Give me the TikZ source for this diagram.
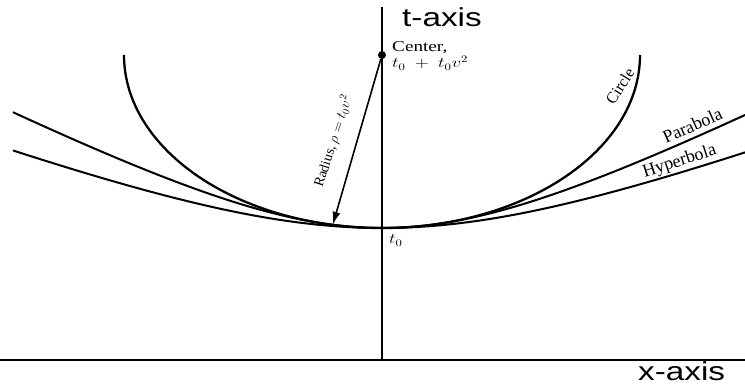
\documentclass[tikz,border=0pt]{standalone}
\usepackage{fontspec}
\setmainfont{Liberation Serif}
\newfontfamily\axisfont{Liberation Sans}
\usepackage{tikz}
\usetikzlibrary{arrows.meta}
\newcommand{\wide}[1]{\scalebox{1.28}[1]{#1}}

\begin{document}
\begin{tikzpicture}[
    x=1pt, y=1pt,
    axis/.style={line width=1.8pt},
    curve/.style={line width=2pt},
    axislabel/.style={font=\axisfont\fontsize{26}{30}\selectfont, inner sep=0pt},
    lbl/.style={font=\fontsize{14}{16}\selectfont, inner sep=0pt},
    curvelabel/.style={font=\fontsize{18}{20}\selectfont, inner sep=0pt},
    dot/.style={circle, fill, inner sep=0pt, minimum size=8pt},
    arrow/.style={-{Latex[length=13pt, width=8pt]}, line width=1.6pt},
  ]
    \useasboundingbox (0,0) rectangle (745,385);

    % Axes
    \coordinate (O) at (382,25);
    \coordinate (TOP) at (382,378);
    \coordinate (XL) at (0,25);
    \coordinate (XR) at (745,25);
    \draw[axis, line width=1.5pt] (XL) -- (XR);
    \draw[axis] (O) -- (TOP);
    \node[axislabel, anchor=base west] (TLBL) at (402,358) {\wide{t-axis}};
    \node[axislabel, anchor=base west] (XLBL) at (638,4) {\wide{x-axis}};

    % Apex and centre of the circle
    \coordinate (T0) at (382,157);
    \node[dot] (C) at (382,330) {};
    \node[lbl, font=\fontsize{15}{17}\selectfont, anchor=base west] (CTR1) at (392,333)
      {\wide{Center,}};
    \node[lbl, anchor=base west] (CTR2) at (392,317) {\wide{$t_0\;+\;t_0v^2$}};
    \node[lbl, anchor=base west] (T0LBL) at (389,141) {\wide{$t_0$}};

    % Circle
    \draw[curve, line width=2.3pt] (C) ++(180:258 and 173)
      arc[start angle=180, end angle=360, x radius=258, y radius=173];

    % Parabola and hyperbola
    \begin{scope}[shift={(T0)}]
      \draw[curve] plot[domain=-369:363, samples=90, smooth]
        (\x, {100*(sqrt(1+(\x/193)^2)-1)});
      \draw[curve] plot[domain=-369:363, samples=90, smooth]
        (\x, {90*(sqrt(1+(\x/235)^2)-1)});
    \end{scope}

    % Radius
    \path (C) ++(259:258 and 173) coordinate (R);
    \draw[arrow] (C) -- (R);
    \node[lbl, rotate=72] (RLBL) at (333,244) {Radius, $\rho = t_0v^2$};

    % Curve names
    \node[curvelabel, font=\fontsize{16}{18}\selectfont, rotate=57] (CIRC) at (620,299) {Circle};
    \node[curvelabel, anchor=base, rotate=24] (PARA) at (695,254) {Parabola};
    \node[curvelabel, anchor=base, rotate=18] (HYP) at (681,219) {Hyperbola};
  \end{tikzpicture}
\end{document}
